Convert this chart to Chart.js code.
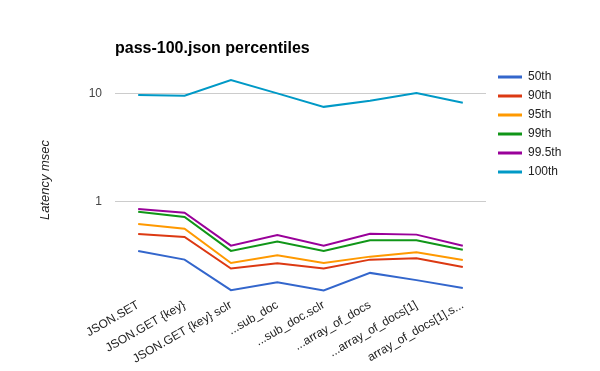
<!DOCTYPE html>
<html>
<head>
<meta charset="utf-8">
<script src="https://cdn.jsdelivr.net/npm/chart.js@4"></script>
<style>
  html, body { margin: 0; padding: 0; background: #fff; }
  #wrap { width: 600px; height: 371px; }
</style>
</head>
<body>
<div id="wrap"><canvas id="latencyChart" width="600" height="371"></canvas></div>
<script>
// values (msec, log scale)
const categories = ["JSON.SET", "JSON.GET {key}", "JSON.GET {key} sclr", "...sub_doc",
  "...sub_doc.sclr", "...array_of_docs", "...array_of_docs[1]", "array_of_docs[1].s..."];
const p50 = [0.347, 0.288, 0.150, 0.178, 0.149, 0.217, 0.186, 0.157];
const p90 = [0.498, 0.467, 0.238, 0.267, 0.238, 0.288, 0.297, 0.246];
const p95 = [0.616, 0.557, 0.268, 0.316, 0.268, 0.307, 0.337, 0.286];
const p99 = [0.801, 0.716, 0.347, 0.423, 0.347, 0.435, 0.435, 0.356];
const p995 = [0.849, 0.784, 0.388, 0.488, 0.388, 0.501, 0.491, 0.388];
const p100 = [9.64, 9.5, 13.3, 10.0, 7.5, 8.55, 10.07, 8.2];
const seriesNames = ["50th", "90th", "95th", "99th", "99.5th", "100th"];
const yTickValues = [1, 10];

const colors = ["#3366cc", "#dc3912", "#ff9900", "#109618", "#990099", "#0099c6"];
const FONT = "Arial, 'Liberation Sans', sans-serif";

const series = [p50, p90, p95, p99, p995, p100];
const datasets = series.map((vals, i) => ({
  label: seriesNames[i],
  data: vals,
  borderColor: colors[i],
  backgroundColor: colors[i],
  borderWidth: 2,
  pointRadius: 0,
  tension: 0
}));

// title, axis title and legend, drawn like the google chart
const decorations = {
  id: "decorations",
  afterDraw(chart) {
    const c = chart.ctx;
    c.save();
    c.fillStyle = "#000";
    c.font = "bold 16px " + FONT;
    c.textBaseline = "alphabetic";
    c.textAlign = "left";
    c.fillText("pass-100.json percentiles", 115, 53);

    c.save();
    c.translate(49, 180);
    c.rotate(-Math.PI / 2);
    c.font = "italic 13px " + FONT;
    c.fillStyle = "#222";
    c.textAlign = "center";
    c.fillText("Latency msec", 0, 0);
    c.restore();

    c.font = "12px " + FONT;
    c.textBaseline = "middle";
    chart.data.datasets.forEach((ds, i) => {
      const y = 77 + i * 19;
      c.fillStyle = ds.borderColor;
      c.fillRect(498, y - 1.5, 24, 3);
      c.fillStyle = "#222";
      c.fillText(ds.label, 528, y);
    });
    c.restore();
  }
};

new Chart(document.getElementById("latencyChart"), {
  type: "line",
  data: { labels: categories, datasets: datasets },
  options: {
    responsive: false,
    animation: false,
    layout: { padding: { top: 75, right: 114, left: 0, bottom: 0 } },
    plugins: {
      legend: { display: false },
      title: { display: false },
      tooltip: { enabled: false }
    },
    scales: {
      x: {
        offset: true,
        grid: { display: false },
        border: { display: false },
        afterFit(scale) { scale.height = 73; },
        ticks: {
          autoSkip: false,
          minRotation: 30,
          maxRotation: 30,
          padding: -8,
          color: "#222",
          font: { family: FONT, size: 12 }
        }
      },
      y: {
        type: "logarithmic",
        min: 0.127,
        max: 14.8,
        bounds: "data",
        border: { display: false },
        afterFit(scale) { scale.width = 115; },
        afterBuildTicks(scale) {
          scale.ticks = yTickValues.map(v => ({ value: v }));
        },
        grid: { color: "#cccccc", lineWidth: 1, drawTicks: false },
        ticks: {
          padding: 13,
          color: "#444",
          font: { family: FONT, size: 12 },
          callback: (v) => String(v)
        }
      }
    }
  },
  plugins: [decorations]
});
</script>
</body>
</html>
